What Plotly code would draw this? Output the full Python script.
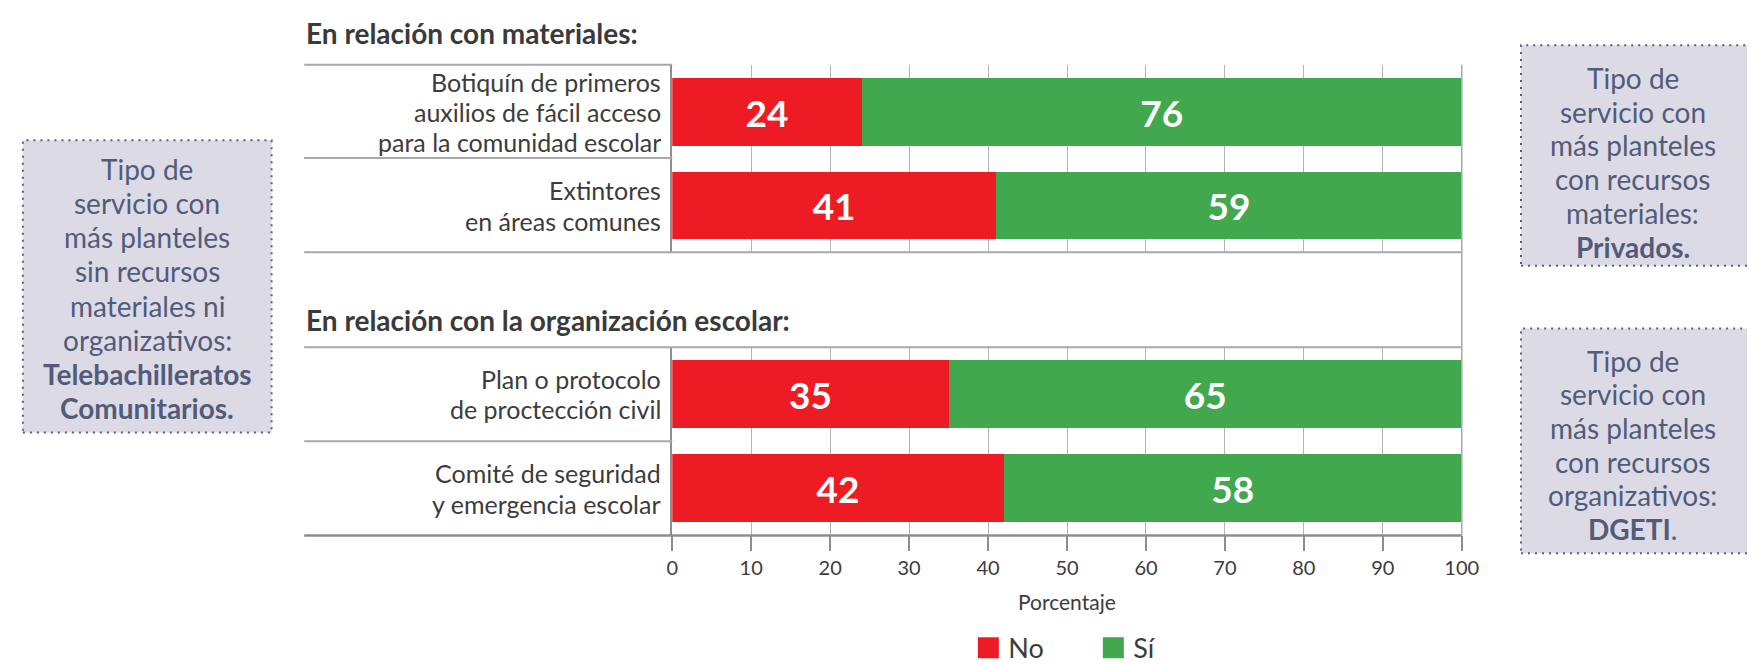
import plotly.graph_objects as go

# ---------------- data ----------------
materiales_cats = [
    "Botiquín de primeros<br>auxilios de fácil acceso<br>para la comunidad escolar",
    "Extintores<br>en áreas comunes",
]
materiales_no = [24, 41]
materiales_si = [76, 59]

organizacion_cats = [
    "Plan o protocolo<br>de proctección civil",
    "Comité de seguridad<br>y emergencia escolar",
]
organizacion_no = [35, 42]
organizacion_si = [65, 58]

series_names = ["No", "Sí"]
x_ticks = [0, 10, 20, 30, 40, 50, 60, 70, 80, 90, 100]

titulo_materiales = "En relación con materiales:"
titulo_organizacion = "En relación con la organización escolar:"
eje_x_titulo = "Porcentaje"

caja_izq = ["Tipo de", "servicio con", "más planteles", "sin recursos",
            "materiales ni", "organizativos:", "<b>Telebachilleratos</b>",
            "<b>Comunitarios.</b>"]
caja_der1 = ["Tipo de", "servicio con", "más planteles", "con recursos",
             "materiales:", "<b>Privados.</b>"]
caja_der2 = ["Tipo de", "servicio con", "más planteles", "con recursos",
             "organizativos:", "<b>DGETI</b>."]

# ---------------- style ----------------
W, H = 1755, 665
RED = "#ed1c24"
GREEN = "#42a84e"
TXT = "#3c3c3c"
GRID = "#b4b4b4"
AXIS = "#8e8e8e"
BOX_FILL = "#dcdbe5"
BOX_LINE = "#56607f"
BOX_TXT = "#525b7b"
FONT = "Lato"
LABEL_SIZE = 25
LABEL_PITCH = 30.2


def X(px):
    return px / W


def Y(py):
    return 1 - py / H


fig = go.Figure()

bar_common = dict(orientation="h", textposition="inside", insidetextanchor="middle",
                  texttemplate="%{x}", textangle=0, constraintext="none",
                  textfont=dict(family=FONT, size=37, color="white", weight="bold"),
                  hoverinfo="skip", showlegend=False)

fig.add_trace(go.Bar(y=materiales_cats, x=materiales_no, name=series_names[0],
                     marker=dict(color=RED, line=dict(width=0)), xaxis="x2", yaxis="y2", **bar_common))
fig.add_trace(go.Bar(y=materiales_cats, x=materiales_si, name=series_names[1],
                     marker=dict(color=GREEN, line=dict(width=0)), xaxis="x2", yaxis="y2", **bar_common))
fig.add_trace(go.Bar(y=organizacion_cats, x=organizacion_no, name=series_names[0],
                     marker=dict(color=RED, line=dict(width=0)), xaxis="x", yaxis="y", **bar_common))
fig.add_trace(go.Bar(y=organizacion_cats, x=organizacion_si, name=series_names[1],
                     marker=dict(color=GREEN, line=dict(width=0)), xaxis="x", yaxis="y", **bar_common))

# legend entries
for name, col in zip(series_names, [RED, GREEN]):
    fig.add_trace(go.Scatter(x=[None], y=[None], mode="markers", name=name,
                             marker=dict(symbol="square", size=16, color=col,
                                         line=dict(color=col, width=5)),
                             xaxis="x", yaxis="y", hoverinfo="skip"))

xdom = [X(667), X(1467)]
yaxis_common = dict(type="category", autorange="reversed", showgrid=False, zeroline=False,
                    showline=True, linecolor=AXIS, linewidth=1.5, ticks="",
                    showticklabels=False, fixedrange=True)

fig.update_layout(
    width=W, height=H,
    margin=dict(l=0, r=0, t=0, b=0),
    paper_bgcolor="white", plot_bgcolor="white",
    barmode="stack", bargap=0.277,
    font=dict(family=FONT, color=TXT),
    xaxis=dict(domain=xdom, anchor="y", range=[0, 100], tickvals=x_ticks,
               showgrid=True, gridcolor=GRID, gridwidth=1, zeroline=False,
               showline=False, ticks="outside", ticklen=15, tickwidth=1.5, tickcolor=AXIS,
               tickfont=dict(family=FONT, size=20, color=TXT), fixedrange=True),
    xaxis2=dict(domain=xdom, anchor="y2", matches="x", range=[0, 100], tickvals=x_ticks,
                showgrid=True, gridcolor=GRID, gridwidth=1, zeroline=False,
                showline=False, ticks="", showticklabels=False, fixedrange=True),
    yaxis=dict(domain=[Y(538), Y(346)], anchor="x", **yaxis_common),
    yaxis2=dict(domain=[Y(249), Y(58)], anchor="x2", **yaxis_common),
    legend=dict(orientation="h", traceorder="normal", x=X(967), xanchor="left",
                y=Y(653), yanchor="middle",
                font=dict(family=FONT, size=27, color=TXT), bgcolor="rgba(0,0,0,0)",
                entrywidth=80, entrywidthmode="pixels", itemclick=False, itemdoubleclick=False),
)

shapes = []
# row separators
for py, x1 in [(58, 667), (153, 667), (249, 1467), (346, 1467), (442, 667)]:
    shapes.append(dict(type="line", xref="paper", yref="paper", x0=X(294), x1=X(x1),
                       y0=Y(py), y1=Y(py), line=dict(color="#a8a8a8", width=2)))
# bottom axis line
shapes.append(dict(type="line", xref="paper", yref="paper", x0=X(294), x1=X(1467),
                   y0=Y(538), y1=Y(538), line=dict(color=AXIS, width=2.5)))
# right border
shapes.append(dict(type="line", xref="paper", yref="paper", x0=X(1467), x1=X(1467),
                   y0=Y(58), y1=Y(538), line=dict(color="#a8a8a8", width=1.5)))

# info boxes
dots = "2px,5px"
shapes.append(dict(type="rect", xref="paper", yref="paper", x0=X(9), x1=X(261),
                   y0=Y(433), y1=Y(135), fillcolor=BOX_FILL,
                   line=dict(color=BOX_LINE, width=2, dash=dots), layer="below"))
for y0, y1 in [(38, 263), (327, 556)]:
    shapes.append(dict(type="rect", xref="paper", yref="paper", x0=X(1527), x1=X(1770),
                       y0=Y(y1), y1=Y(y0), fillcolor=BOX_FILL,
                       line=dict(color=BOX_LINE, width=2, dash=dots), layer="below"))

annotations = []
annotations.append(dict(xref="paper", yref="paper", x=X(294), y=Y(25), xanchor="left",
                        yanchor="middle", showarrow=False, text="<b>" + titulo_materiales + "</b>",
                        font=dict(family=FONT, size=28, color="#3a3a3a")))
annotations.append(dict(xref="paper", yref="paper", x=X(294), y=Y(318), xanchor="left",
                        yanchor="middle", showarrow=False, text="<b>" + titulo_organizacion + "</b>",
                        font=dict(family=FONT, size=28, color="#3a3a3a")))
annotations.append(dict(xref="paper", yref="paper", x=X(1067), y=Y(605), xanchor="center",
                        yanchor="middle", showarrow=False, text=eje_x_titulo,
                        font=dict(family=FONT, size=21, color=TXT)))

# category labels, positioned on the category axes with tight line spacing
for cats, yref in [(materiales_cats, "y2"), (organizacion_cats, "y")]:
    for cat in cats:
        parts = cat.split("<br>")
        n = len(parts)
        for k, part in enumerate(parts):
            annotations.append(dict(xref="paper", yref=yref, x=X(658), y=cat,
                                    xanchor="right", yanchor="middle", showarrow=False,
                                    yshift=-(k - (n - 1) / 2) * LABEL_PITCH, text=part,
                                    font=dict(family=FONT, size=LABEL_SIZE, color=TXT)))


def box_text(lines, cx, cy0, pitch):
    for i, t in enumerate(lines):
        annotations.append(dict(xref="paper", yref="paper", x=X(cx), y=Y(cy0 + i * pitch),
                                xanchor="center", yanchor="middle", showarrow=False, text=t,
                                font=dict(family=FONT, size=28, color=BOX_TXT)))


box_text(caja_izq, 135, 164, 34.9)
box_text(caja_der1, 1640, 71, 34.6)
box_text(caja_der2, 1640, 360, 34.2)

fig.update_layout(shapes=shapes, annotations=annotations)

fig.write_html("out.html")
